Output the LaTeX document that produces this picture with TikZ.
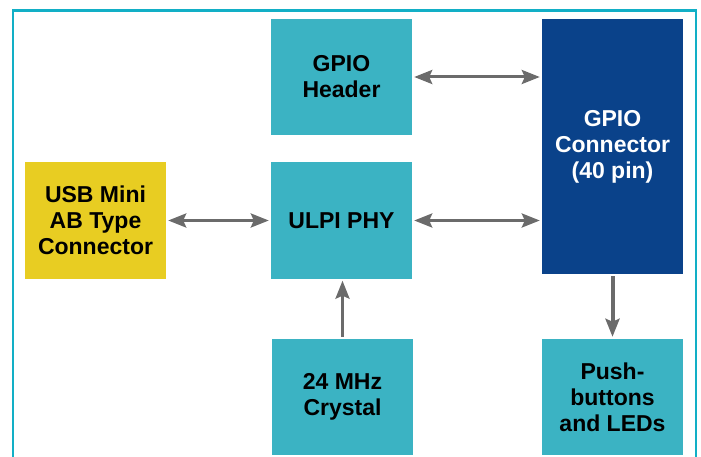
\documentclass[tikz,border=0pt]{standalone}
\usepackage{fontspec}
\setmainfont{Liberation Sans}
\usetikzlibrary{positioning}
\usetikzlibrary{arrows.meta}
\definecolor{tealbox}{HTML}{3BB3C3}
\definecolor{yellowbox}{HTML}{E8CD22}
\definecolor{navybox}{HTML}{0A428A}
\definecolor{frameline}{HTML}{12AFC6}
\definecolor{arrowgray}{HTML}{6B6B6B}
\tikzset{blk/.style={fill=tealbox, minimum width=141pt, minimum height=116pt, inner sep=0pt, align=center, font=\fontsize{23}{26}\selectfont\bfseries}}
\tikzset{lnk/.style={draw=arrowgray, line width=3pt, {Stealth[length=18pt,width=14pt,inset=3pt]}-{Stealth[length=18pt,width=14pt,inset=3pt]}, shorten <=2pt, shorten >=2pt}}
\tikzset{onelnk/.style={lnk, -{Stealth[length=18pt,width=14pt,inset=3pt]}}}

\begin{document}
\begin{tikzpicture}[x=1pt, y=-1pt, on grid]
        \useasboundingbox (0,0) rectangle (701,457);
        \draw[frameline, line width=2.5pt] (13,457) -- (13,10.5) -- (696,10.5) -- (696,457);

        \node[blk] (phy) at (341.5, 220.5) {ULPI PHY};
        \node[blk, above=143.5pt of phy] (hdr) {GPIO\\Header};
        \node[blk, fill=yellowbox, left=246pt of phy] (usb) {USB Mini\\AB Type\\Connector};
        \node[blk, below=176.5pt of phy, xshift=1pt] (xtal) {24 MHz\\Crystal};
        \node[blk, fill=navybox, text=white, minimum height=255pt, right=271pt of phy, yshift=74pt] (conn) {GPIO\\Connector\\(40 pin)};
        \node[blk, below=250.5pt of conn] (btn) {Push-\\buttons\\and LEDs};

        \draw[lnk] (hdr.east) -- (hdr.east -| conn.west);
        \draw[lnk] (usb) -- (phy);
        \draw[lnk] (phy) -- (phy -| conn.west);
        \draw[onelnk] (xtal) -- (xtal |- phy.south);
        \draw[onelnk, line width=4pt] (conn) -- (btn);
    \end{tikzpicture}
\end{document}
